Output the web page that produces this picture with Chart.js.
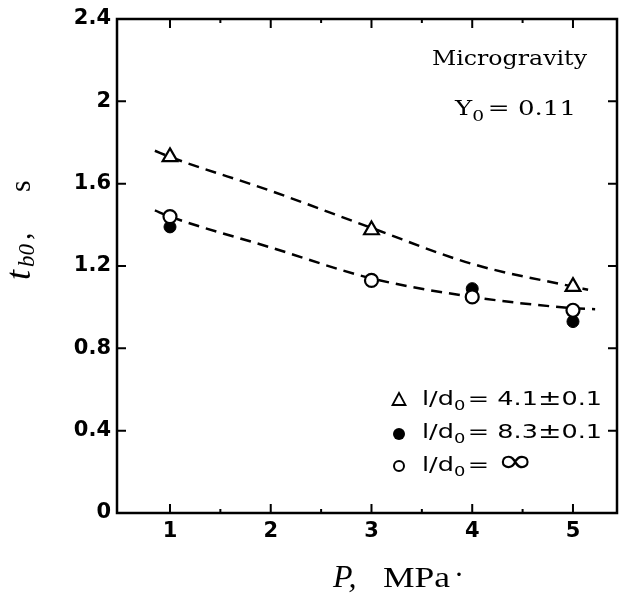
<!DOCTYPE html>
<html>
<head>
<meta charset="utf-8">
<script src="https://cdn.jsdelivr.net/npm/chart.js@4.4.1/dist/chart.umd.min.js"></script>
<style>
  html, body { margin: 0; padding: 0; background: #fff; overflow: hidden; }
  canvas { display: block; }
</style>
</head>
<body>
<canvas id="chart" width="622" height="595"></canvas>
<script>
// P in MPa, tb0 in s
const pTri = [1, 3, 5];
const tTri = [1.73, 1.375, 1.10];          // l/d0 = 4.1 +- 0.1
const pDot = [1, 4, 5];
const tDot = [1.39, 1.09, 0.93];           // l/d0 = 8.3 +- 0.1
const pOpen = [1, 3, 4, 5];
const tOpen = [1.44, 1.13, 1.05, 0.985];   // l/d0 = infinity

// dashed guide curves
const pUpper = [0.85, 1, 2, 3, 4, 5, 5.15];
const tUpper = [1.76, 1.73, 1.565, 1.385, 1.21, 1.10, 1.085];
const pLower = [0.85, 1, 2, 3, 4, 5, 5.22];
const tLower = [1.47, 1.44, 1.29, 1.14, 1.05, 0.995, 0.99];

const xTicks = [1, 2, 3, 4, 5];
const xMinor = [1.5, 2.5, 3.5, 4.5];
const yTicks = [0, 0.4, 0.8, 1.2, 1.6, 2, 2.4];

function pts(xs, ys) {
  return xs.map((x, i) => ({ x: x, y: ys[i] }));
}

// draws a run of text pieces, squeezed/stretched so it spans x0..x1
function drawRun(ctx, parts, x0, x1, y, fixedSx) {
  let total = 0;
  parts.forEach(p => { ctx.font = p.font; total += ctx.measureText(p.t).width + (p.gap || 0); });
  const sx = fixedSx || (x1 - x0) / total;
  ctx.save();
  ctx.translate(x0, y);
  ctx.scale(sx, 1);
  let cx = 0;
  parts.forEach(p => {
    ctx.font = p.font;
    ctx.fillText(p.t, cx, p.dy || 0);
    cx += ctx.measureText(p.t).width + (p.gap || 0);
  });
  ctx.restore();
  return sx;
}

const serif = "'DejaVu Serif'";
const sans = "'DejaVu Sans'";
const times = "'Liberation Serif'";

function legendRow(value) {
  return [
    { t: "l/d", font: "20px " + sans },
    { t: "0", font: "14px " + sans, dy: 5, gap: 2 },
    { t: "= " + value, font: "20px " + sans },
    { t: "±", font: "22px " + sans },
    { t: "0.1", font: "20px " + sans }
  ];
}

// keep the plot frame's right edge 5px from the canvas edge
const areaPlugin = {
  id: "area",
  afterLayout(chart) {
    const xs = chart.scales.x;
    const gap = chart.width - 5 - chart.chartArea.right;
    if (gap !== 0) {
      chart.chartArea.right += gap;
      chart.chartArea.width = chart.chartArea.right - chart.chartArea.left;
      xs.right += gap;
      xs.width += gap;
      xs.configure();
    }
  }
};

const framePlugin = {
  id: "frame",
  afterDraw(chart) {
    const ctx = chart.ctx;
    const a = chart.chartArea;
    const xs = chart.scales.x;
    const ys = chart.scales.y;
    ctx.save();
    ctx.strokeStyle = "#000";
    ctx.fillStyle = "#000";
    ctx.lineWidth = 2.5;
    ctx.strokeRect(a.left, a.top, a.right - a.left, a.bottom - a.top);

    // inward ticks
    ctx.lineWidth = 2;
    ctx.beginPath();
    yTicks.slice(1, -1).forEach(v => {
      const y = ys.getPixelForValue(v);
      ctx.moveTo(a.left, y); ctx.lineTo(a.left + 9, y);
      ctx.moveTo(a.right, y); ctx.lineTo(a.right - 9, y);
    });
    xTicks.forEach(v => {
      const x = xs.getPixelForValue(v);
      ctx.moveTo(x, a.bottom); ctx.lineTo(x, a.bottom - 9);
      ctx.moveTo(x, a.top); ctx.lineTo(x, a.top + 9);
    });
    xMinor.forEach(v => {
      const x = xs.getPixelForValue(v);
      ctx.moveTo(x, a.bottom); ctx.lineTo(x, a.bottom - 4);
      ctx.moveTo(x, a.top); ctx.lineTo(x, a.top + 4);
    });
    ctx.stroke();

    ctx.textAlign = "left";
    ctx.textBaseline = "alphabetic";

    // notes in the top right corner
    drawRun(ctx, [{ t: "Microgravity", font: "21px " + serif }], 432, 587, 65);
    drawRun(ctx, [
      { t: "Y", font: "21px " + serif },
      { t: "0", font: "15px " + serif, dy: 6, gap: 3 },
      { t: "= 0.11", font: "21px " + serif }
    ], 455, 576, 115);

    // legend
    const lx = 399;
    ctx.lineWidth = 1.8;
    ctx.beginPath();
    ctx.moveTo(lx, 393); ctx.lineTo(lx + 6.5, 405); ctx.lineTo(lx - 6.5, 405); ctx.closePath();
    ctx.stroke();
    ctx.beginPath();
    ctx.arc(lx, 434, 6, 0, Math.PI * 2);
    ctx.fill();
    ctx.lineWidth = 2;
    ctx.beginPath();
    ctx.arc(lx, 466, 5, 0, Math.PI * 2);
    ctx.stroke();

    const sx = drawRun(ctx, legendRow("4.1"), 422, 602, 405);
    drawRun(ctx, legendRow("8.3"), 422, 602, 438, sx);
    drawRun(ctx, [
      { t: "l/d", font: "20px " + sans },
      { t: "0", font: "14px " + sans, dy: 5, gap: 2 },
      { t: "= ", font: "20px " + sans },
      { t: "∞", font: "34px " + sans, dy: 1 }
    ], 422, 0, 471, sx);

    // x axis title
    ctx.font = "italic 32px " + times;
    ctx.fillText("P,", 333, 587);
    drawRun(ctx, [{ t: "MPa", font: "30px " + times }], 383, 450, 587);
    ctx.font = "30px " + times;
    ctx.fillText("·", 454, 584);

    // y axis title, rotated
    ctx.save();
    ctx.translate(30, 280);
    ctx.rotate(-Math.PI / 2);
    ctx.font = "italic 36px " + times;
    ctx.fillText("t", 0, 0);
    ctx.font = "italic 23px " + times;
    ctx.fillText("b0", 13, 4);
    ctx.font = "30px " + times;
    ctx.fillText(",", 40, 0);
    ctx.fillText("s", 88, 0);
    ctx.restore();

    ctx.restore();
  }
};

const ctx = document.getElementById("chart").getContext("2d");
new Chart(ctx, {
  type: "scatter",
  data: {
    datasets: [
      {
        label: "l/d0 = inf",
        data: pts(pOpen, tOpen),
        pointStyle: "circle",
        pointRadius: 6.5,
        pointBackgroundColor: "#fff",
        pointBorderColor: "#000",
        pointBorderWidth: 2.2,
        order: 1
      },
      {
        label: "l/d0 = 8.3",
        data: pts(pDot, tDot),
        pointStyle: "circle",
        pointRadius: 6,
        pointBackgroundColor: "#000",
        pointBorderColor: "#000",
        pointBorderWidth: 1,
        order: 2
      },
      {
        label: "l/d0 = 4.1",
        data: pts(pTri, tTri),
        pointStyle: "triangle",
        pointRadius: 8.5,
        pointBackgroundColor: "#fff",
        pointBorderColor: "#000",
        pointBorderWidth: 2.2,
        order: 3
      },
      {
        label: "upper fit",
        data: pts(pUpper, tUpper),
        showLine: true,
        borderColor: "#000",
        borderWidth: 2.5,
        borderDash: [11, 7],
        cubicInterpolationMode: "monotone",
        pointRadius: 0,
        order: 4
      },
      {
        label: "lower fit",
        data: pts(pLower, tLower),
        showLine: true,
        borderColor: "#000",
        borderWidth: 2.5,
        borderDash: [11, 7],
        cubicInterpolationMode: "monotone",
        pointRadius: 0,
        order: 5
      }
    ]
  },
  options: {
    responsive: false,
    animation: false,
    events: [],
    layout: { padding: { top: 19, right: 5, left: 0, bottom: 0 } },
    plugins: {
      legend: { display: false },
      tooltip: { enabled: false },
      title: { display: false }
    },
    scales: {
      x: {
        type: "linear",
        min: 0.474,
        max: 5.437,
        grid: { display: false, drawTicks: false },
        border: { display: false },
        afterBuildTicks: s => { s.ticks = xTicks.map(v => ({ value: v })); },
        afterFit: s => { s.height = 82; },
        ticks: {
          padding: 6,
          color: "#000",
          font: { family: "DejaVu Sans", size: 21, weight: "bold" },
          callback: v => String(v)
        }
      },
      y: {
        type: "linear",
        min: 0,
        max: 2.4,
        grid: { display: false, drawTicks: false },
        border: { display: false },
        afterBuildTicks: s => { s.ticks = yTicks.map(v => ({ value: v })); },
        afterFit: s => { s.width = 117; },
        ticks: {
          padding: 6,
          color: "#000",
          font: { family: "DejaVu Sans", size: 21, weight: "bold" },
          callback: v => String(Math.round(v * 10) / 10)
        }
      }
    }
  },
  plugins: [areaPlugin, framePlugin]
});
</script>
</body>
</html>
